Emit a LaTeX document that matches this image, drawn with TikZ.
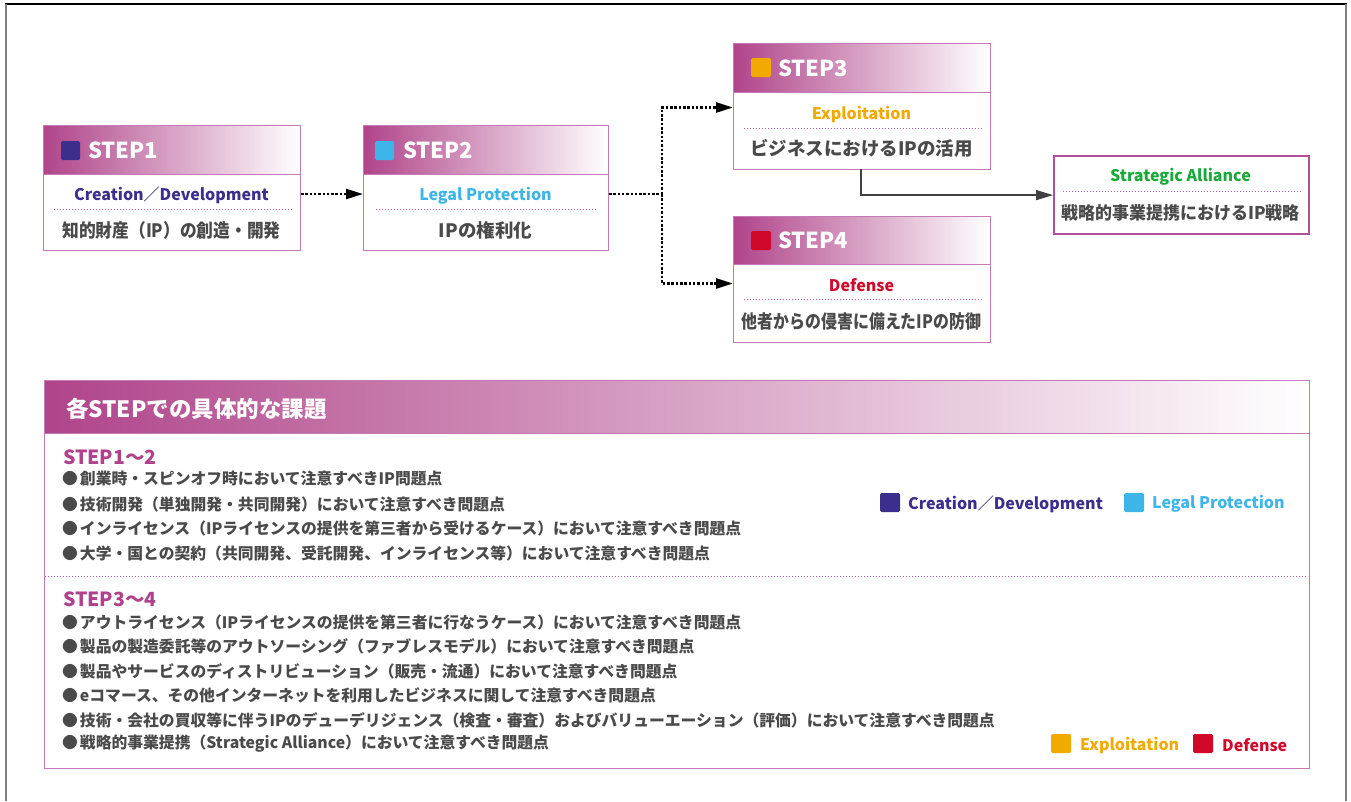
\documentclass[tikz,border=0pt]{standalone}
\usepackage{fontspec}
\setmainfont{Noto Sans CJK JP}
\usetikzlibrary{arrows.meta}
\definecolor{hdr}{RGB}{176,68,138}
\definecolor{boxc}{RGB}{196,123,181}
\definecolor{sabox}{RGB}{176,80,154}
\definecolor{dotc}{RGB}{200,88,159}
\definecolor{tgray}{RGB}{74,74,74}
\definecolor{navy}{RGB}{59,46,140}
\definecolor{sky}{RGB}{62,181,233}
\definecolor{orng}{RGB}{242,169,0}
\definecolor{dred}{RGB}{208,9,43}
\definecolor{grn}{RGB}{25,169,58}
\definecolor{stepmag}{RGB}{176,66,140}
\definecolor{linec}{RGB}{64,64,64}
\tikzset{
  stepbox/.style={draw=boxc, line width=1pt, inner sep=0, anchor=north west},
  hdrfill/.style={left color=hdr, middle color=hdr!60!white, right color=white},
  stepttl/.style={anchor=west, text=white, font=\bfseries\fontsize{22}{22}\selectfont, inner sep=0},
  subttl/.style={font=\bfseries\fontsize{16}{16}\selectfont, inner sep=0},
  jptxt/.style={text=tgray, font=\bfseries\fontsize{18.5}{19}\selectfont, inner sep=0},
  pinkdots/.style={draw=dotc, line width=0.9pt, dash pattern=on 1pt off 2pt},
  chip/.style={rounded corners=1.5pt},
  dotline/.style={line width=2.5pt, dash pattern=on 2.5pt off 1.8pt},
  dotarr/.style={dotline, -{Triangle[length=17pt,width=10pt]}},
  solidarr/.style={draw=linec, line width=1.3pt, -{Triangle[length=17pt,width=10pt]}},
  bullet/.style={anchor=west, text=tgray, font=\bfseries\fontsize{15.8}{16}\selectfont, inner sep=0},
  rangettl/.style={anchor=west, text=stepmag, font=\bfseries\fontsize{19.5}{20}\selectfont, inner sep=0},
  legend/.style={anchor=west, font=\bfseries\fontsize{16}{16}\selectfont, inner sep=0}
}
\newcommand{\bl}{●\hspace{2pt}}
\begin{document}
\begin{tikzpicture}[x=1pt,y=-1pt]
\useasboundingbox (0,0) rectangle (1351,801);
% outer frame
\draw[black, line width=1.3pt] (5,4) -- (1347,4);
\draw[gray, line width=2pt] (6,4) -- (6,801);
\draw[gray, line width=2pt] (1346,4) -- (1346,801);

% ---------- STEP1 ----------
\fill[hdrfill] (43,125) rectangle (300,174);
\node[stepbox, minimum width=257pt, minimum height=125pt] (s1) at (43,125) {};
\draw[boxc, line width=1pt] (43,174) -- (300,174);
\fill[navy, chip] (61,141) rectangle (80,160);
\node[stepttl] (h1) at (88,150) {STEP1};
\node[subttl, text=navy] (t1) at (171.5,195.5) {Creation／Development};
\draw[pinkdots] (54,209) -- (292,209);
\node[jptxt] (j1) at (171.5,230.5) {\scalebox{0.905}[1]{知的財産（IP）の創造・開発}};

% ---------- STEP2 ----------
\fill[hdrfill] (363,125) rectangle (608,174);
\node[stepbox, minimum width=245pt, minimum height=125pt] (s2) at (363,125) {};
\draw[boxc, line width=1pt] (363,174) -- (608,174);
\fill[sky, chip] (375,141) rectangle (394,160);
\node[stepttl] (h2) at (403,150) {STEP2};
\node[subttl, text=sky] (t2) at (485.5,195.5) {Legal Protection};
\draw[pinkdots] (376,209) -- (598,209);
\node[jptxt] (j2) at (485.5,230.5) {IPの権利化};

% ---------- STEP3 ----------
\fill[hdrfill] (733,43) rectangle (990,92);
\node[stepbox, minimum width=257pt, minimum height=126pt] (s3) at (733,43) {};
\draw[boxc, line width=1pt] (733,92) -- (990,92);
\fill[orng, chip] (751,58) rectangle (771,77);
\node[stepttl] (h3) at (778,68) {STEP3};
\node[subttl, text=orng] (t3) at (861.5,114.5) {Exploitation};
\draw[pinkdots] (744,128) -- (983,128);
\node[jptxt] (j3) at (861.5,148.5) {ビジネスにおけるIPの活用};

% ---------- STEP4 ----------
\fill[hdrfill] (733,216) rectangle (990,264);
\node[stepbox, minimum width=257pt, minimum height=126pt] (s4) at (733,216) {};
\draw[boxc, line width=1pt] (733,264) -- (990,264);
\fill[dred, chip] (751,231) rectangle (771,250);
\node[stepttl] (h4) at (778,240) {STEP4};
\node[subttl, text=dred] (t4) at (861.5,285.5) {Defense};
\draw[pinkdots] (744,299) -- (983,299);
\node[jptxt] (j4) at (861.5,321.5) {\scalebox{0.86}[1]{他者からの侵害に備えたIPの防御}};

% ---------- Strategic Alliance ----------
\node[draw=sabox, line width=2.2pt, inner sep=0, anchor=north west, minimum width=255pt, minimum height=78pt] (sa) at (1053,155) {};
\node[subttl, text=grn] (ta) at (1180.5,176.5) {Strategic Alliance};
\draw[pinkdots] (1063,191) -- (1302,191);
\node[jptxt, font=\bfseries\fontsize{17.5}{18}\selectfont] (ja) at (1180.5,212.5) {\scalebox{0.97}[1]{戦略的事業提携におけるIP戦略}};

% ---------- connectors ----------
\coordinate (fk) at (662,194);
\coordinate (b3) at (861,169);
\draw[dotarr] (s1.east |- fk) -- (s2.west |- fk);
\draw[dotline] (s2.east |- fk) -- (fk);
\draw[dotarr] (fk) |- ([yshift=-1pt]s3.west);
\draw[dotarr] (fk) |- ([yshift=-4pt]s4.west);
\draw[solidarr] (b3) |- (sa.west);

% ---------- bottom panel ----------
\fill[hdrfill] (44,380) rectangle (1309,433);
\node[draw=boxc, line width=1pt, inner sep=0, anchor=north west, minimum width=1265pt, minimum height=388pt] (panel) at (44,380) {};
\draw[boxc, line width=1pt] (44,433) -- (1309,433);
\node[anchor=west, text=white, font=\bfseries\fontsize{22.5}{23}\selectfont, inner sep=0] (ptitle) at (66,409) {各STEPでの具体的な課題};

\node[rangettl] (r12) at (63,457) {STEP1～2};
\node[bullet] (l1) at (62,479) {\bl 創業時・スピンオフ時において注意すべきIP問題点};
\node[bullet] (l2) at (62,504) {\bl 技術開発（単独開発・共同開発）において注意すべき問題点};
\node[bullet] (l3) at (62,528) {\bl インライセンス（IPライセンスの提供を第三者から受けるケース）において注意すべき問題点};
\node[bullet] (l4) at (62,553) {\bl 大学・国との契約（共同開発、受託開発、インライセンス等）において注意すべき問題点};

\draw[pinkdots] (45,576) -- (1308,576);

\node[rangettl] (r34) at (63,599) {STEP3～4};
\node[bullet] (l5) at (62,622) {\bl アウトライセンス（IPライセンスの提供を第三者に行なうケース）において注意すべき問題点};
\node[bullet] (l6) at (62,646) {\bl 製品の製造委託等のアウトソーシング（ファブレスモデル）において注意すべき問題点};
\node[bullet] (l7) at (62,671) {\bl 製品やサービスのディストリビューション（販売・流通）において注意すべき問題点};
\node[bullet] (l8) at (62,695) {\bl eコマース、その他インターネットを利用したビジネスに関して注意すべき問題点};
\node[bullet] (l9) at (62,720) {\bl 技術・会社の買収等に伴うIPのデューデリジェンス（検査・審査）およびバリューエーション（評価）において注意すべき問題点};
\node[bullet] (l10) at (62,744) {\bl 戦略的事業提携（Strategic Alliance）において注意すべき問題点};

% legends
\fill[navy, chip] (880,493) rectangle (900,512);
\node[legend, text=navy] (lg1) at (908,504) {Creation／Development};
\fill[sky, chip] (1124,493) rectangle (1144,512);
\node[legend, text=sky] (lg2) at (1152,504) {Legal Protection};
\fill[orng, chip] (1051,734) rectangle (1071,753);
\node[legend, text=orng] (lg3) at (1080,745) {Exploitation};
\fill[dred, chip] (1193,734) rectangle (1213,753);
\node[legend, text=dred] (lg4) at (1222,745) {Defense};
\end{tikzpicture}
\end{document}
